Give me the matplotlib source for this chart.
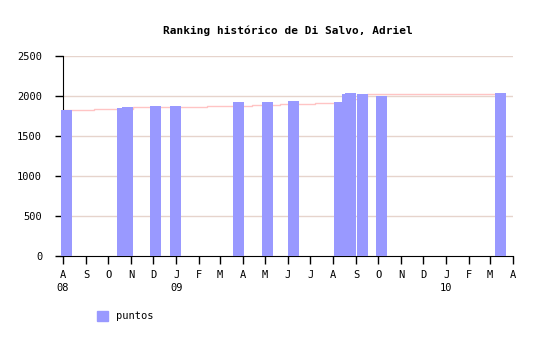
import datetime as dt
import matplotlib
matplotlib.use("Agg")
import matplotlib.pyplot as plt
from matplotlib.patches import Patch

# puntos (fecha, valor)
bar_dates = ["2008-08-06", "2008-10-20", "2008-10-27", "2008-12-04", "2008-12-31",
             "2009-03-26", "2009-05-04", "2009-06-08", "2009-08-09", "2009-08-20",
             "2009-08-24", "2009-09-10", "2009-10-05", "2010-03-15"]
bar_values = [1825, 1850, 1862, 1875, 1875,
              1925, 1925, 1937, 1929, 2025,
              2041, 2025, 2000, 2037]

# linea de tendencia (escalones)
trend_dates = ["2008-08-01", "2008-09-12", "2008-11-04", "2008-12-10", "2009-02-12",
               "2009-04-04", "2009-04-13", "2009-05-21", "2009-07-08", "2009-08-17",
               "2009-09-16", "2010-03-15"]
trend_values = [1820, 1837, 1859, 1866, 1871, 1879, 1887, 1900, 1912, 1960, 2025, 2025]

month_labels = ["A", "S", "O", "N", "D", "J", "F", "M", "A", "M", "J",
                "J", "A", "S", "O", "N", "D", "J", "F", "M", "A"]
year_labels = {0: "08", 5: "09", 17: "10"}

def d(s):
    return dt.datetime.strptime(s, "%Y-%m-%d")

mono = "DejaVu Sans Mono"

fig = plt.figure(figsize=(5.4, 3.4), dpi=100)
ax = fig.add_axes([63 / 540, 1 - 256 / 340, 450 / 540, 200 / 340])

ax.set_ylim(0, 2500)
ax.set_yticks([0, 500, 1000, 1500, 2000, 2500])
for v in [500, 1000, 1500, 2000, 2500]:
    ax.axhline(v, color="#e6d4cc", lw=1, zorder=0)

ax.plot([d(s) for s in trend_dates], trend_values, drawstyle="steps-post",
        color="#ffc4c4", lw=1, zorder=1)

bars = ax.bar([d(s) for s in bar_dates], bar_values, width=15, color="#9999ff",
              align="center", zorder=3)
for b in bars:
    b.set_clip_on(False)

ticks = []
y, m = 2008, 8
for i in range(len(month_labels)):
    ticks.append(dt.datetime(y, m, 1))
    m += 1
    if m > 12:
        m, y = 1, y + 1
ax.set_xlim(ticks[0], ticks[-1])
ax.set_xticks(ticks)
ax.set_xticklabels([lab + ("\n" + year_labels[i] if i in year_labels else "")
                    for i, lab in enumerate(month_labels)],
                   fontfamily=mono, fontsize=7.5, linespacing=1.45, va="top")
for t in ax.get_xticklabels():
    t.set_multialignment("center")

ax.tick_params(axis="x", direction="out", length=6, width=1, pad=4)
ax.tick_params(axis="y", direction="out", length=6, width=1, pad=9,
               labelsize=7.5)
for t in ax.get_yticklabels():
    t.set_fontfamily(mono)

ax.spines["top"].set_visible(False)
ax.spines["right"].set_visible(False)

fig.text(288 / 540, 1 - 31 / 340, "Ranking histórico de Di Salvo, Adriel",
         ha="center", va="center", fontfamily=mono, fontweight="bold", fontsize=8)

fig.legend(handles=[Patch(color="#9999ff", label="puntos")],
           loc="center left", bbox_to_anchor=(88 / 540, 1 - 316 / 340),
           frameon=False, handlelength=1.0, handleheight=1.1, handletextpad=0.8,
           prop={"family": mono, "size": 7.5})

fig.savefig("out.png", dpi=100)
